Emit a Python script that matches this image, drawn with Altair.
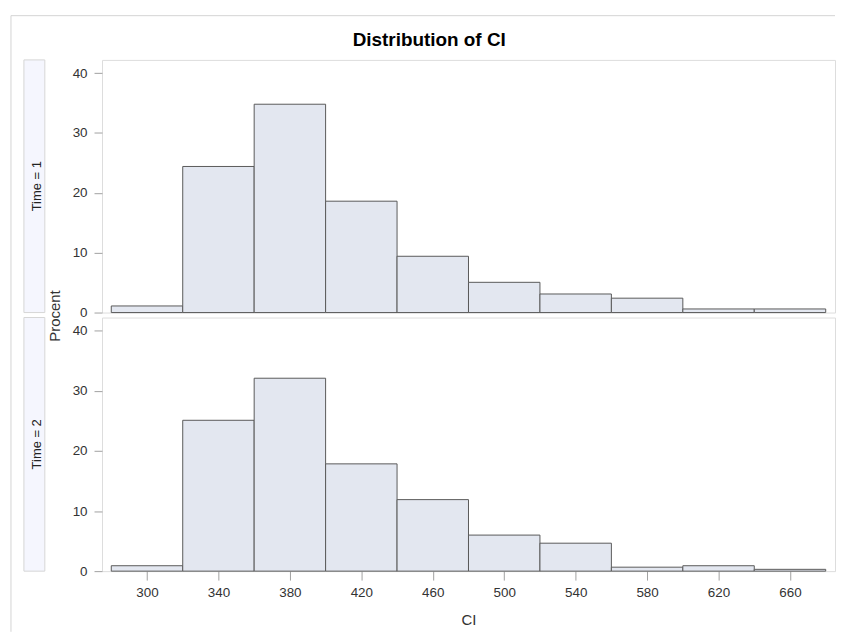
import altair as alt
import pandas as pd

bin_starts = [280, 320, 360, 400, 440, 480, 520, 560, 600, 640]
bin_width = 40
time1_pct = [1.1, 24.4, 34.8, 18.6, 9.4, 5.05, 3.1, 2.4, 0.6, 0.6]
time2_pct = [0.9, 25.1, 32.1, 17.85, 11.9, 6.0, 4.65, 0.66, 0.9, 0.3]
panel_labels = ["Time = 1", "Time = 2"]
x_ticks = [300, 340, 380, 420, 460, 500, 540, 580, 620, 660]
y_ticks = [0, 10, 20, 30, 40]

FONT = "Liberation Sans"
W = 737
H1 = 254
H2 = 255
X_DOMAIN = [274.8, 685.2]
Y_DOMAIN = [0, 42.2]

BAR_FILL = "#E3E7F0"
BAR_STROKE = "#5A5A5A"
FRAME = "#A0A0A0"
STRIP_FILL = "#F5F6FE"
STRIP_STROKE = "#D6D6D6"


def make_df(vals):
    return pd.DataFrame({
        "start": bin_starts,
        "end": [s + bin_width for s in bin_starts],
        "pct": vals,
    })


one = alt.Data(values=[{}])


def panel(vals, label, h, show_x):
    df = make_df(vals)
    xaxis = alt.Axis(values=x_ticks, title="CI", tickSize=9, tickColor=FRAME,
                     labelPadding=5, labelFontSize=13.5, labelFont=FONT,
                     labelColor="#333333", titleFont=FONT, titleFontSize=15,
                     titleFontWeight="normal", titleColor="#333333",
                     titlePadding=14, domain=False, grid=False) if show_x else None
    bars = alt.Chart(df).mark_rect(fill=BAR_FILL, stroke=BAR_STROKE, strokeWidth=1).encode(
        x=alt.X("start:Q", scale=alt.Scale(domain=X_DOMAIN, nice=False, zero=False),
                axis=xaxis),
        x2="end:Q",
        y=alt.Y("pct:Q", scale=alt.Scale(domain=Y_DOMAIN, nice=False),
                axis=alt.Axis(values=y_ticks, title=None, tickSize=8, tickColor=FRAME,
                              labelPadding=7, labelFontSize=13.5, labelFont=FONT,
                              labelColor="#333333", domain=False, grid=False)),
        y2=alt.datum(0),
    )
    strip = alt.Chart(one).mark_rect(fill=STRIP_FILL, stroke=STRIP_STROKE, strokeWidth=1).encode(
        x=alt.value(-78.5), x2=alt.value(-57.5), y=alt.value(0), y2=alt.value(h)
    )
    strip_text = alt.Chart(one).mark_text(
        text=label, angle=270, font=FONT, fontSize=13, color="#222222",
        align="center", baseline="middle"
    ).encode(x=alt.value(-65.5), y=alt.value(h / 2))
    return [strip, strip_text, bars]


layers1 = panel(time1_pct, panel_labels[0], H1, False)
# decorations carried by the top panel
frame_top = alt.Chart(one).mark_rule(color="#D4D4D4", strokeWidth=1).encode(
    x=alt.value(-91.5), x2=alt.value(W), y=alt.value(-44.5)
)
frame_left = alt.Chart(one).mark_rule(color="#D4D4D4", strokeWidth=1).encode(
    x=alt.value(-91.5), y=alt.value(-44.5), y2=alt.value(575)
)
title = alt.Chart(one).mark_text(
    text="Distribution of CI", font=FONT, fontSize=19, fontWeight="bold",
    color="#000000", align="center", baseline="middle"
).encode(x=alt.value(329), y=alt.value(-19.8))
ylabel = alt.Chart(one).mark_text(
    text="Procent", font=FONT, fontSize=15, color="#333333", angle=270,
    align="center", baseline="middle"
).encode(x=alt.value(-47.5), y=alt.value(257.5))

top = alt.layer(frame_top, frame_left, *layers1, title, ylabel).properties(width=W, height=H1)
bottom = alt.layer(*panel(time2_pct, panel_labels[1], H2, True)).properties(width=W, height=H2)

chart = alt.vconcat(top, bottom, spacing=5, bounds="flush").properties(
    padding={"left": 1.5, "top": 4.5, "right": 0, "bottom": 0}
).configure_view(stroke=FRAME, strokeWidth=1).configure(background="white")

chart.save("out.html", embed_options={"renderer": "svg", "actions": False})
